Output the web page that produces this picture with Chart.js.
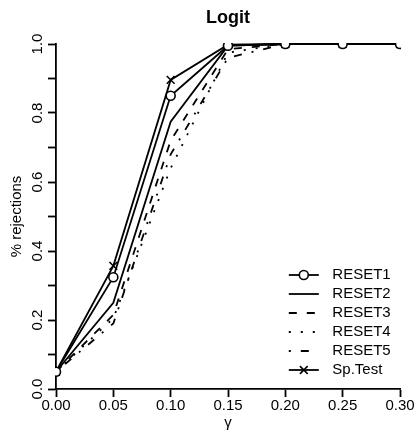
<!DOCTYPE html>
<html><head><meta charset="utf-8">
<script src="https://cdn.jsdelivr.net/npm/chart.js@4"></script>
<style>html,body{margin:0;padding:0;background:#fff;overflow:hidden;}</style>
</head><body>
<canvas id="c" width="419" height="440"></canvas>
<script>
// ---- data ----
const chartTitle = 'Logit';
const xTitle = 'γ';
const yTitle = '% rejections';
const gammaValues = [0, 0.05, 0.10, 0.15, 0.20, 0.25, 0.30];
const seriesNames = ['RESET1', 'RESET2', 'RESET3', 'RESET4', 'RESET5', 'Sp.Test'];
const reset1 = [0.05, 0.324, 0.850, 0.995, 1.0, 1.0, 1.0];
const reset2 = [0.05, 0.250, 0.775, 0.995, 1.0, 1.0, 1.0];
const reset3 = [0.05, 0.215, 0.720, 0.985, 1.0, 1.0, 1.0];
const reset4 = [0.05, 0.205, 0.640, 0.975, 1.0, 1.0, 1.0];
const reset5 = [0.05, 0.190, 0.680, 0.960, 1.0, 1.0, 1.0];
const spTest = [0.05, 0.357, 0.896, 0.998, 1.0, 1.0, 1.0];
const yTickLabels = ['0.0', '0.2', '0.4', '0.6', '0.8', '1.0'];

const FONT = "'Liberation Sans', Arial, Helvetica, sans-serif";
Chart.defaults.font.family = FONT;
Chart.defaults.font.size = 15;
Chart.defaults.color = '#000';

const seriesValues = [reset1, reset2, reset3, reset4, reset5, spTest];
const seriesStyle = [
  {dash: [], point: 'circle', r: 4.5},
  {dash: [], point: 'circle', r: 0},
  {dash: [8, 10], point: 'circle', r: 0},
  {dash: [2, 10], point: 'circle', r: 0},
  {dash: [2, 10, 8, 10], point: 'circle', r: 0},
  {dash: [], point: 'crossRot', r: 5.5}
];

const datasets = seriesNames.map((name, k) => ({
  label: name,
  data: gammaValues.map((g, i) => ({x: g, y: seriesValues[k][i]})),
  borderColor: '#000',
  borderWidth: 1.8,
  borderDash: seriesStyle[k].dash,
  pointStyle: seriesStyle[k].point,
  pointRadius: seriesStyle[k].r,
  pointHoverRadius: seriesStyle[k].r,
  pointBorderWidth: 1.6,
  pointBorderColor: '#000',
  pointBackgroundColor: '#fff',
  tension: 0,
  fill: false,
  clip: 1
}));

const helperPlugin = {
  id: 'helper',
  beforeDraw(chart) {
    const ctx = chart.ctx;
    ctx.save();
    ctx.fillStyle = '#fff';
    ctx.fillRect(0, 0, chart.width, chart.height);
    ctx.restore();
  },
  afterLayout(chart) {
    const lg = chart.legend;
    if (!lg) return;
    const ca = chart.chartArea;
    lg.left = ca.right - 115.2;
    lg.top = ca.bottom - 125.5;
    lg.right = chart.width;
    lg.bottom = ca.bottom + 10;
    lg.width = lg.right - lg.left;
    lg.height = lg.bottom - lg.top;
  },
  afterDraw(chart) {
    const ctx = chart.ctx;
    const ca = chart.chartArea;
    // title
    ctx.save();
    ctx.font = 'bold 18px ' + FONT;
    ctx.fillStyle = '#000';
    ctx.textAlign = 'center';
    ctx.textBaseline = 'alphabetic';
    ctx.fillText(chartTitle, (ca.left + ca.right) / 2, 23);
    ctx.restore();
    // legend samples
    const lg = chart.legend;
    if (!lg || !lg.legendHitBoxes) return;
    lg.legendHitBoxes.forEach((hb, i) => {
      const ds = chart.data.datasets[i];
      const y = hb.top + hb.height / 2;
      const x0 = hb.left, x1 = hb.left + 30;
      ctx.save();
      ctx.strokeStyle = '#000';
      ctx.lineWidth = ds.borderWidth;
      ctx.setLineDash(ds.borderDash || []);
      ctx.beginPath();
      ctx.moveTo(x0, y);
      ctx.lineTo(x1, y);
      ctx.stroke();
      ctx.setLineDash([]);
      if (ds.pointRadius > 0) {
        ctx.fillStyle = '#fff';
        ctx.lineWidth = ds.pointBorderWidth;
        Chart.helpers.drawPoint(ctx, {pointStyle: ds.pointStyle, radius: ds.pointRadius, borderWidth: ds.pointBorderWidth, rotation: 0}, (x0 + x1) / 2, y);
      }
      ctx.restore();
    });
  }
};

new Chart(document.getElementById('c'), {
  type: 'line',
  data: {datasets},
  plugins: [helperPlugin],
  options: {
    responsive: false,
    animation: false,
    devicePixelRatio: 1,
    layout: {padding: {top: 44, right: 19, left: 0, bottom: 0}},
    plugins: {
      title: {display: false},
      tooltip: {enabled: false},
      legend: {
        display: true,
        position: 'chartArea',
        align: 'start',
        labels: {
          boxWidth: 36,
          boxHeight: 0,
          padding: 4,
          color: '#000',
          font: {size: 15, family: FONT},
          generateLabels(chart) {
            return chart.data.datasets.map((ds, i) => ({
              text: ds.label,
              fillStyle: 'rgba(0,0,0,0)',
              strokeStyle: 'rgba(0,0,0,0)',
              lineWidth: 0,
              hidden: false,
              datasetIndex: i,
              fontColor: '#000'
            }));
          }
        }
      }
    },
    scales: {
      x: {
        type: 'linear',
        min: 0, max: 0.3,
        afterFit(s) { s.height = 51; },
        border: {display: true, color: '#000', width: 1.8},
        grid: {drawOnChartArea: false, drawTicks: true, tickLength: 8, tickWidth: 1.8, tickColor: '#000'},
        ticks: {
          stepSize: 0.05, autoSkip: false, maxRotation: 0, minRotation: 0, padding: 0,
          color: '#000', font: {size: 15},
          callback: (v) => v.toFixed(2)
        },
        title: {display: true, text: xTitle, color: '#000', font: {size: 15}, padding: {top: 0, bottom: 8}}
      },
      y: {
        type: 'linear',
        min: 0, max: 1,
        afterFit(s) { s.width = 56; },
        border: {display: true, color: '#000', width: 1.8},
        grid: {drawOnChartArea: false, drawTicks: true, tickLength: 8, tickWidth: 1.8, tickColor: '#000'},
        ticks: {
          stepSize: 0.1, autoSkip: false, minRotation: 90, maxRotation: 90, padding: 0,
          crossAlign: 'center', color: '#000', font: {size: 15},
          callback: (v, i) => (i % 2 === 0 ? yTickLabels[i / 2] : '')
        },
        title: {display: true, text: yTitle, color: '#000', font: {size: 15}, padding: {top: 8, bottom: 0}}
      }
    }
  }
});
</script>
</body></html>
